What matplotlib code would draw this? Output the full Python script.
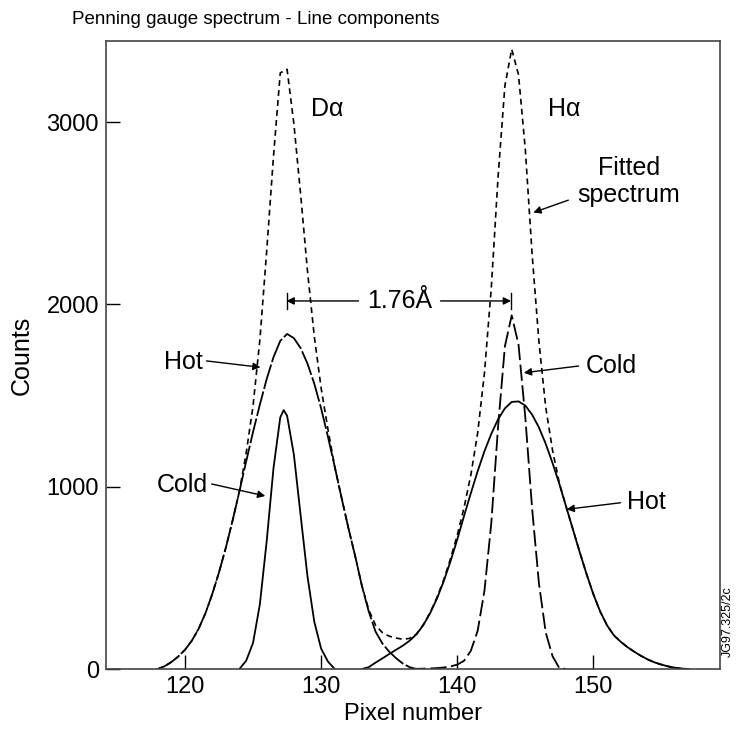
import numpy as np
import matplotlib.pyplot as plt

plt.rcParams['font.family'] = ['Liberation Sans', 'DejaVu Sans']

# counts, x = pixel number
fit_px = [118.0, 118.5, 119.0, 119.5, 120.0, 120.5, 121.0, 121.5, 122.0, 122.5,
          123.0, 123.5, 124.0, 124.5, 125.0, 125.5, 126.0, 126.5, 127.0, 127.5,
          128.0, 128.5, 129.0, 129.5, 130.0, 130.5, 131.0, 131.5, 132.0, 132.5,
          133.0, 133.5, 134.0, 134.5, 135.0, 135.5, 136.0, 136.5, 137.0, 137.5,
          138.0, 138.5, 139.0, 139.5, 140.0, 140.5, 141.0, 141.5, 142.0, 142.5,
          143.0, 143.5, 144.0, 144.5, 145.0, 145.5, 146.0, 146.5, 147.0, 147.5,
          148.0, 148.5, 149.0, 149.5, 150.0, 150.5, 151.0, 151.5, 152.0, 152.5,
          153.0, 153.5, 154.0, 154.5, 155.0, 155.5, 156.0, 156.5, 157.0]
fit_counts = [0, 15, 38, 68, 105, 155, 220, 305, 410, 530,
              665, 815, 975, 1186, 1443, 1804, 2289, 2810, 3270, 3290,
              2991, 2600, 2183, 1824, 1542, 1316, 1110, 940, 775, 620,
              455, 325, 240, 200, 180, 170, 163, 168, 191, 242,
              308, 390, 488, 604, 734, 885, 1065, 1295, 1625, 2090,
              2700, 3200, 3400, 3260, 2850, 2275, 1795, 1435, 1200, 1020,
              890, 765, 640, 520, 410, 315, 240, 185, 150, 120,
              95, 72, 52, 36, 24, 14, 7, 2, 0]

d_hot_px = [118.0, 118.5, 119.0, 119.5, 120.0, 120.5, 121.0, 121.5, 122.0, 122.5,
            123.0, 123.5, 124.0, 124.5, 125.0, 125.5, 126.0, 126.5, 127.0, 127.5,
            128.0, 128.5, 129.0, 129.5, 130.0, 130.5, 131.0, 131.5, 132.0, 132.5,
            133.0, 133.5, 134.0, 134.5, 135.0, 135.5, 136.0, 136.5, 137.0]
d_hot_counts = [0, 15, 38, 68, 105, 155, 220, 305, 410, 530,
                665, 815, 975, 1140, 1300, 1450, 1590, 1710, 1800, 1838,
                1815, 1760, 1675, 1565, 1430, 1275, 1110, 940, 775, 620,
                455, 315, 205, 140, 95, 60, 30, 10, 0]

d_cold_px = [124.0, 124.5, 125.0, 125.5, 126.0, 126.5, 127.0, 127.25,
             127.5, 128.0, 128.5, 129.0, 129.5, 130.0, 130.5, 131.0]
d_cold_counts = [0, 46, 143, 354, 699, 1100, 1380, 1420,
                 1390, 1176, 840, 508, 259, 112, 41, 0]

h_hot_px = [133.0, 133.5, 134.0, 134.5, 135.0, 135.5, 136.0, 136.5, 137.0, 137.5,
            138.0, 138.5, 139.0, 139.5, 140.0, 140.5, 141.0, 141.5, 142.0, 142.5,
            143.0, 143.5, 144.0, 144.5, 145.0, 145.5, 146.0, 146.5, 147.0, 147.5,
            148.0, 148.5, 149.0, 149.5, 150.0, 150.5, 151.0, 151.5, 152.0, 152.5,
            153.0, 153.5, 154.0, 154.5, 155.0, 155.5, 156.0, 156.5, 157.0]
h_hot_counts = [0, 10, 35, 58, 82, 105, 128, 155, 190, 240,
                305, 385, 480, 590, 710, 840, 965, 1085, 1195, 1290,
                1370, 1430, 1465, 1468, 1445, 1395, 1325, 1235, 1130, 1015,
                890, 765, 640, 520, 410, 315, 240, 185, 150, 120,
                95, 72, 52, 36, 24, 14, 7, 2, 0]

h_cold_px = [136.5, 137.0, 137.5, 138.0, 138.5, 139.0, 139.5, 140.0, 140.5, 141.0,
             141.5, 142.0, 142.5, 143.0, 143.5, 144.0, 144.5, 145.0, 145.5, 146.0,
             146.5, 147.0, 147.5, 148.0]
h_cold_counts = [0, 1, 2, 3, 5, 8, 14, 24, 45, 100,
                 210, 430, 800, 1330, 1770, 1940, 1780, 1380, 880, 470,
                 200, 70, 5, 0]

d_peak = 127.46
h_peak = 143.95

fig = plt.figure(figsize=(7.36, 7.36), dpi=100)
ax = fig.add_axes([106/736, 67/736, 614/736, 628/736])

ax.plot(fit_px, fit_counts, color='k', lw=1.2, ls=(0, (3.5, 2.5)))
ax.plot(d_hot_px, d_hot_counts, color='k', lw=1.3, ls=(0, (14, 1.5)))
ax.plot(d_cold_px, d_cold_counts, color='k', lw=1.3)
ax.plot(h_hot_px, h_hot_counts, color='k', lw=1.3)
ax.plot(h_cold_px, h_cold_counts, color='k', lw=1.3, ls=(0, (9, 2.5)))

ax.set_xlim(114.2, 159.3)
ax.set_ylim(0, 3445)
ax.set_xticks([120, 130, 140, 150])
ax.set_yticks([0, 1000, 2000, 3000])
ax.tick_params(direction='in', length=10, width=1, labelsize=17, pad=5)
for s in ax.spines.values():
    s.set_color('#444444')
    s.set_linewidth(1.2)

fig.text(413/736, 1 - 714/736, 'Pixel number', fontsize=17, ha='center', va='center')
fig.text(22/736, 1 - 355/736, 'Counts', fontsize=18, rotation=90,
         ha='center', va='center')
fig.text(72/736, 1 - 19/736, 'Penning gauge spectrum - Line components',
         fontsize=13.5, va='center')
fig.text(728/736, 1 - 622/736, 'JG97.325/2c', rotation=90, fontsize=9,
         ha='center', va='center')

ax.text(129.26, 3070, 'D\u03b1', fontsize=18, va='center')
ax.text(146.67, 3070, 'H\u03b1', fontsize=18, va='center')
ax.text(152.59, 2674, 'Fitted\nspectrum', fontsize=18, ha='center', va='center',
        linespacing=1.2)

arr = dict(arrowstyle='-|>', color='k', lw=1, mutation_scale=11, shrinkA=0, shrinkB=0)
ax.annotate('', xy=(145.59, 2504), xytext=(148.16, 2572), arrowprops=arr)

# 1.76 A separation marker
ax.text(135.76, 2019, '1.76\u00c5', fontsize=18, ha='center', va='center')
ax.annotate('', xy=(d_peak, 2019), xytext=(132.75, 2019), arrowprops=arr)
ax.annotate('', xy=(h_peak, 2019), xytext=(138.77, 2019), arrowprops=arr)
ax.plot([d_peak, d_peak], [1975, 2063], color='k', lw=1)
ax.plot([h_peak, h_peak], [1975, 2063], color='k', lw=1)

ax.text(119.89, 1684, 'Hot', fontsize=18, ha='center', va='center')
ax.annotate('', xy=(125.55, 1655), xytext=(121.58, 1690), arrowprops=arr)
ax.text(119.78, 1009, 'Cold', fontsize=18, ha='center', va='center')
ax.annotate('', xy=(125.90, 949), xytext=(121.96, 1015), arrowprops=arr)
ax.text(151.34, 1662, 'Cold', fontsize=18, ha='center', va='center')
ax.annotate('', xy=(144.89, 1625), xytext=(148.91, 1662), arrowprops=arr)
ax.text(153.91, 916, 'Hot', fontsize=18, ha='center', va='center')
ax.annotate('', xy=(148.03, 876), xytext=(152.0, 912), arrowprops=arr)

fig.savefig('out.png', dpi=100)
